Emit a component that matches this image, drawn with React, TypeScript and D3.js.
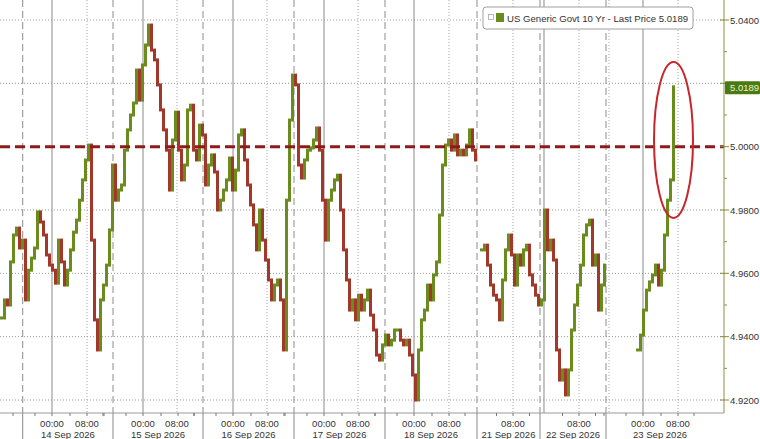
import React from 'react';
import * as d3 from 'd3';

const W = 760;
const H = 439;

// Closing prices per trading session (one value per bar slot)
const sep13 = [4.9459, 4.9516, 4.95, 4.9636, 4.9721, 4.9743, 4.968, 4.9705];
const sep14 = [4.9516, 4.961, 4.9648, 4.968, 4.9794, 4.9762, 4.9721, 4.9658, 4.9626, 4.961,
  4.9569, 4.9705, 4.9636, 4.9563, 4.961, 4.9674, 4.973, 4.9768, 4.9831, 4.9895,
  4.9958, 5.0005, 4.9705, 4.9453, 4.9358, 4.9516, 4.9563, 4.9626, 4.9737, 4.9942];
const sep15 = [4.9831, 4.9863, 4.9879, 4.9989, 5.0053, 5.01, 5.0138, 5.0242, 5.0147, 5.0258,
  5.0321, 5.0384, 5.0305, 5.0274, 5.0195, 5.0116, 5.0053, 4.9989, 4.9863, 5.0021,
  5.0109, 4.9989, 4.9895, 4.9942, 5.0116, 5.0131, 4.9989, 4.9958, 5.0068, 5.0037];
const sep16 = [4.9879, 4.9942, 4.9974, 4.992, 4.98, 4.9831, 4.9863, 4.9895, 4.9964, 4.9863,
  4.9926, 5.0037, 5.0053, 4.9958, 4.9879, 4.9816, 4.9753, 4.9674, 4.98, 4.9705,
  4.9642, 4.9579, 4.9516, 4.9563, 4.9579, 4.9516, 4.9358, 4.9831, 5.0084, 5.0226];
const sep17 = [5.0195, 4.9942, 4.9901, 4.9958, 4.9989, 4.9996, 5.0021, 5.0059, 4.9989, 4.9831,
  4.9705, 4.9831, 4.9863, 4.9895, 4.991, 4.98, 4.9674, 4.9579, 4.9484, 4.9516,
  4.9453, 4.9531, 4.9484, 4.9516, 4.9547, 4.9468, 4.9421, 4.9342, 4.9326, 4.9374, 4.9405];
const sep18 = [4.9374, 4.9389, 4.9421, 4.9421, 4.9389, 4.9374, 4.9389, 4.9342, 4.9279, 4.92,
  4.9358, 4.9453, 4.9484, 4.9563, 4.9516, 4.9595, 4.9636, 4.9784, 4.9942, 5.0005,
  5.0021, 4.9989, 5.0037, 4.9974, 4.9989, 4.9974, 5.0005, 5.0053, 4.9989, 4.9958];
const sep21 = [4.9674, 4.9689, 4.9626, 4.9563, 4.9531, 4.9516, 4.9453, 4.9579, 4.9674, 4.9721,
  4.9658, 4.9563, 4.9658, 4.9626, 4.9674, 4.9689, 4.9595, 4.9563, 4.9531, 4.95];
const sep22 = [4.9516, 4.98, 4.9674, 4.9705, 4.9642, 4.9358, 4.9263, 4.9295, 4.9216, 4.9295,
  4.9421, 4.95, 4.9563, 4.9626, 4.9721, 4.9753, 4.9768, 4.9626, 4.9658, 4.9484, 4.9563, 4.9626];
const sep23 = [4.9358, 4.9405, 4.9484, 4.9547, 4.9573, 4.9595, 4.9626, 4.9563, 4.961, 4.9721,
  4.9831, 4.9895, 5.0189];

const sessions = [sep13, sep14, sep15, sep16, sep17, sep18, sep21, sep22, sep23];
const sessionStart = [0, 8, 38, 68, 98, 129, 160, 180, 212];
const totalSlots = 241.33;

// Axis positions in bar-slot units
const dayStarts = [7.57, 37.67, 67.67, 98, 128.33, 159, 180, 202];
const dayEnd = 238;
const dateLabels = ['14 Sep 2026', '15 Sep 2026', '16 Sep 2026', '17 Sep 2026', '18 Sep 2026', '21 Sep 2026', '22 Sep 2026', '23 Sep 2026'];
const midnightLabelSlots = [17.33, 47.67, 77.67, 108, 138, 214.33];
const midnightGridExtra = [181.33];
const eightSlots = [29, 59, 89, 119.33, 149.67, 171, 193, 226];
const dottedExtra = [203];

const yMajor = [5.04, 5.02, 5.0, 4.98, 4.96, 4.94, 4.92];
const yMinor = [5.03, 5.01, 4.99, 4.97, 4.95, 4.93];
const refLevel = 5.0;
const lastPrice = 5.0189;
const ellipseRange = [4.9775, 5.0267];
const legendText = 'US Generic Govt 10 Yr - Last Price 5.0189';

const GREEN = '#6a8c1c';
const RED = '#a2382a';
const FONT = 'Liberation Sans, Arial, sans-serif';

export default function App() {
  const plotRight = 724;
  const plotBottom = 413;
  const x = d3.scaleLinear().domain([0, totalSlots]).range([0, plotRight]);
  const y = d3.scaleLinear().domain([4.92, 5.04]).range([400, 20]);
  const slotW = x(1) - x(0);

  const bars: { x: number; y1: number; y2: number; c: string }[] = [];
  let prevEnd = -10;
  let prevVal: number | null = null;
  sessions.forEach((vals, si) => {
    const start = sessionStart[si];
    const connected = start === prevEnd + 1;
    vals.forEach((v, i) => {
      const slot = start + i;
      const p = i === 0 && !connected ? null : prevVal;
      const hi = p == null ? v : Math.max(p, v);
      const lo = p == null ? v : Math.min(p, v);
      let y1 = y(hi) - 1.5;
      let y2 = y(lo) + 1.5;
      if (y2 - y1 < 3) {
        const m = (y1 + y2) / 2;
        y1 = m - 1.5;
        y2 = m + 1.5;
      }
      bars.push({ x: x(slot + 0.5), y1, y2, c: p == null || v >= p ? GREEN : RED });
      prevVal = v;
      prevEnd = slot;
    });
  });

  const minorX: number[] = [];
  midnightLabelSlots.forEach((m) => {
    [-13, -5.67, 0, 6, 11.67, 17].forEach((o) => minorX.push(m + o));
  });
  [171, 193].forEach((e) => [-5.5, 0, 5.5].forEach((o) => minorX.push(e + o)));

  const dateCenters = dayStarts.map((s, i) => ((i < dayStarts.length - 1 ? dayStarts[i + 1] : dayEnd) + s) / 2);
  const lastSlot = sessionStart[sessionStart.length - 1] + sep23.length - 1;

  return (
    <svg width={W} height={H} style={{ position: 'fixed', left: 0, top: 0, background: '#fff' }} fontFamily={FONT}>
      <rect x={0} y={0} width={W} height={H} fill="#fff" />
      {/* horizontal gridlines */}
      {yMajor.filter((v) => v !== refLevel).map((v) => (
        <line key={'hg' + v} x1={0} x2={plotRight} y1={y(v)} y2={y(v)} stroke="#9a9a9a" strokeDasharray="1,2" />
      ))}
      {/* vertical gridlines */}
      {dayStarts.map((s) => (
        <line key={'ds' + s} x1={x(s)} x2={x(s)} y1={0} y2={plotBottom} stroke="#8c8c8c" strokeDasharray="7,4" />
      ))}
      {[...midnightLabelSlots, ...midnightGridExtra].map((s) => (
        <line key={'mn' + s} x1={x(s)} x2={x(s)} y1={0} y2={plotBottom} stroke="#8a8a8a" />
      ))}
      {[...eightSlots, ...dottedExtra].map((s) => (
        <line key={'e8' + s} x1={x(s)} x2={x(s)} y1={0} y2={plotBottom} stroke="#a5a5a5" strokeDasharray="1,2" />
      ))}
      {/* price bars */}
      {bars.map((b, i) => (
        <rect key={'b' + i} x={b.x - slotW / 2} width={slotW} y={b.y1} height={b.y2 - b.y1} fill={b.c} />
      ))}
      {/* reference level */}
      <line x1={0} x2={plotRight} y1={y(refLevel)} y2={y(refLevel)} stroke="#8e1b1b" strokeWidth={3} strokeDasharray="10,5" />
      {/* annotation ellipse */}
      <ellipse cx={x(lastSlot + 0.5)} cy={(y(ellipseRange[0]) + y(ellipseRange[1])) / 2} rx={19.5}
        ry={(y(ellipseRange[0]) - y(ellipseRange[1])) / 2} fill="none" stroke="#c8262b" strokeWidth={2} />
      {/* bottom axis */}
      <line x1={0} x2={plotRight} y1={plotBottom} y2={plotBottom} stroke="#9a9a9a" />
      {dayStarts.map((s) => (
        <line key={'sep' + s} x1={x(s)} x2={x(s)} y1={plotBottom} y2={H} stroke="#8a8a8a" />
      ))}
      {minorX.map((s, i) => (
        <line key={'mt' + i} x1={x(s)} x2={x(s)} y1={plotBottom} y2={plotBottom + 3} stroke="#777" />
      ))}
      {midnightLabelSlots.map((s) => (
        <text key={'l0' + s} x={x(s)} y={427} fontSize={9.5} fill="#333" textAnchor="middle">00:00</text>
      ))}
      {eightSlots.map((s) => (
        <text key={'l8' + s} x={x(s)} y={427} fontSize={9.5} fill="#333" textAnchor="middle">08:00</text>
      ))}
      {dateLabels.map((d, i) => (
        <text key={d} x={x(dateCenters[i])} y={438} fontSize={9.5} fill="#333" textAnchor="middle">{d}</text>
      ))}
      {/* right axis */}
      <line x1={plotRight} x2={plotRight} y1={0} y2={plotBottom} stroke="#8f8f4a" />
      {yMajor.map((v) => (
        <line key={'yt' + v} x1={plotRight - 4} x2={plotRight + 5} y1={y(v)} y2={y(v)} stroke="#7f8f3a" />
      ))}
      {yMinor.map((v) => (
        <line key={'ym' + v} x1={plotRight} x2={plotRight + 3} y1={y(v)} y2={y(v)} stroke="#8f8f4a" />
      ))}
      {yMajor.filter((v) => Math.abs(v - lastPrice) > 0.004).map((v) => (
        <text key={'yl' + v} x={plotRight + 6} y={y(v) + 3.5} fontSize={9.5} fill="#333">{v.toFixed(4)}</text>
      ))}
      <rect x={plotRight + 1} y={y(lastPrice) - 5.5} width={W - plotRight - 1} height={13} fill="#4c7a12" rx={1} />
      <text x={plotRight + 6} y={y(lastPrice) + 4.5} fontSize={9.5} fill="#e6f2d2">{lastPrice.toFixed(4)}</text>
      {/* legend */}
      <rect x={483} y={7} width={210} height={22} rx={3} fill="#fff" stroke="#a0a0a0" />
      <rect x={488.5} y={14.5} width={5} height={5} fill="#fff" stroke="#aaa" strokeWidth={0.8} />
      <rect x={496} y={13} width={8} height={9} fill={GREEN} />
      <text x={507} y={21.5} fontSize={9.6} fill="#333">{legendText}</text>
    </svg>
  );
}
